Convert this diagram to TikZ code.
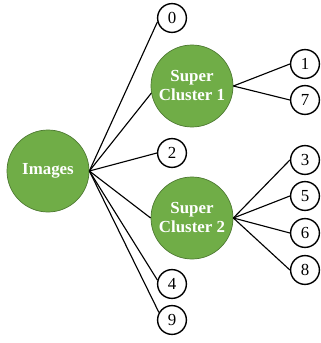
\documentclass[tikz,border=0pt]{standalone}
\usepackage{fontspec}
\setmainfont{Liberation Serif}
\definecolor{leafgreen}{HTML}{70AD47}
\definecolor{leafedge}{HTML}{4E7A32}
\tikzset{
  bigc/.style={circle, fill=leafgreen, draw=leafedge, line width=0.5pt,
    minimum size=2.05cm, inner sep=0pt, align=center, text=white,
    font=\fontsize{12}{13.5}\selectfont\bfseries},
  smallc/.style={circle, fill=white, draw=black, line width=1pt,
    minimum size=0.72cm, inner sep=0pt, font=\fontsize{12}{13}\selectfont},
  link/.style={draw=black, line width=0.8pt}
}
\begin{document}
\begin{tikzpicture}
    \def\x{0.025}
    \def\y{-0.025}
    \useasboundingbox (0,0) rectangle (320*\x, 343*\y);
    \node[bigc] (I) at (48*\x, 171*\y) {Images};
    \node[bigc] (S1) at (192*\x, 86*\y) {Super\\Cluster 1};
    \node[bigc] (S2) at (192*\x, 218*\y) {Super\\Cluster 2};
    \node[smallc] (C0) at (172*\x, 18*\y) {0};
    \node[smallc] (C2) at (172*\x, 153*\y) {2};
    \node[smallc] (C4) at (172*\x, 284*\y) {4};
    \node[smallc] (C9) at (172*\x, 320*\y) {9};
    \node[smallc] (C1) at (305*\x, 64*\y) {1};
    \node[smallc] (C7) at (305*\x, 100*\y) {7};
    \node[smallc] (C3) at (305*\x, 160*\y) {3};
    \node[smallc] (C5) at (305*\x, 196*\y) {5};
    \node[smallc] (C6) at (305*\x, 233*\y) {6};
    \node[smallc] (C8) at (305*\x, 270*\y) {8};
    \path (I.east) edge [link] (C0.195);
    \path (I.east) edge [link] (S1.190);
    \path (I.east) edge [link] (C2.west);
    \path (I.east) edge [link] (S2.west);
    \path (I.east) edge [link] (C4.165);
    \path (I.east) edge [link] (C9.150);
    \path (S1.east) edge [link] (C1.west);
    \path (S1.east) edge [link] (C7.west);
    \path (S2.east) edge [link] (C3.west);
    \path (S2.east) edge [link] (C5.west);
    \path (S2.east) edge [link] (C6.west);
    \path (S2.east) edge [link] (C8.west);
  \end{tikzpicture}
\end{document}
